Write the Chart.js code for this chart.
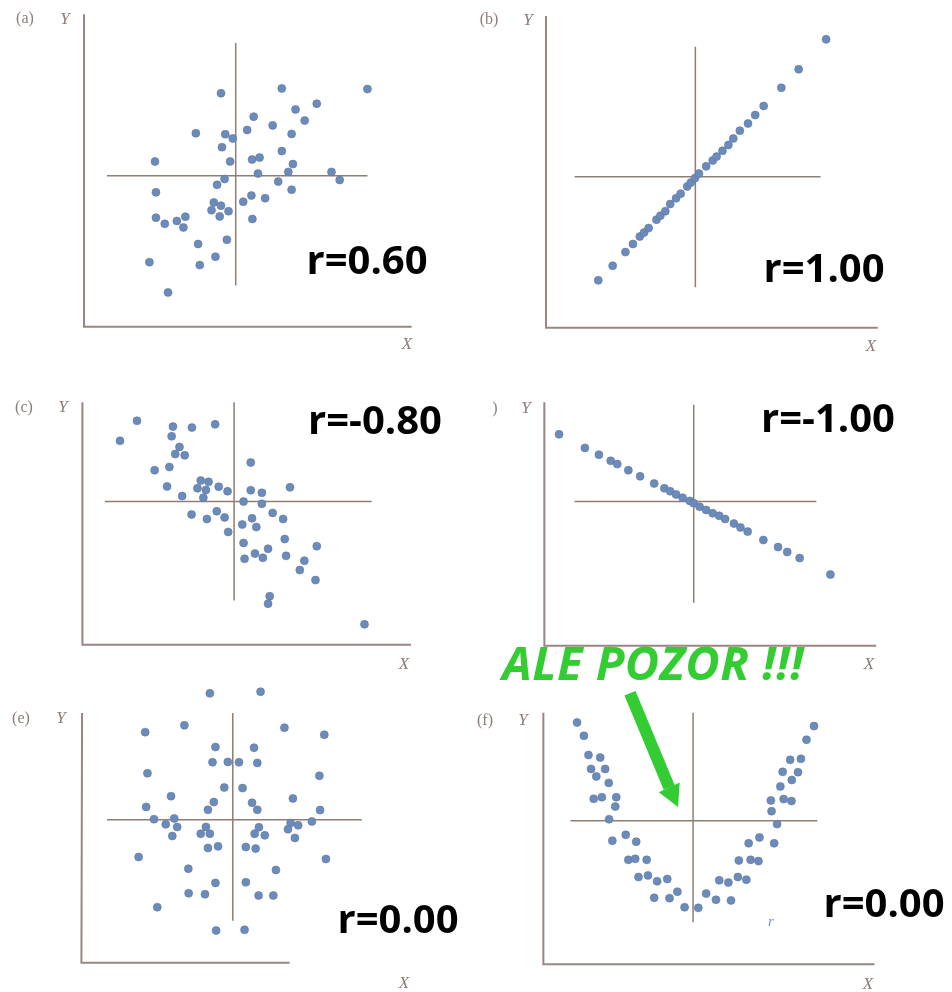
<!DOCTYPE html>
<html>
<head>
<meta charset="utf-8">
<script src="https://cdn.jsdelivr.net/npm/chart.js@4/dist/chart.umd.min.js"></script>
<style>
body { margin: 0; background: #fff; }
#page { position: relative; width: 952px; height: 992px; overflow: hidden; background: #fff; }
.panel { position: absolute; }
.lbl { position: absolute; font-family: "Liberation Serif", serif; color: #8c7f79; font-size: 16px; line-height: 1; transform: translate(-50%, -50%); white-space: nowrap; }
.ax { font-style: italic; font-size: 17px; }
.r { position: absolute; font-family: "Open Sans", sans-serif; font-weight: bold; font-size: 40px; line-height: 1; color: #000; transform: translate(-50%, -50%); white-space: nowrap; }
#pozor { position: absolute; font-family: "Open Sans", sans-serif; font-weight: bold; font-style: italic; font-size: 47px; line-height: 1; color: #33cc33; transform: translate(-50%, -50%); white-space: nowrap; letter-spacing: 0.5px; }
</style>
</head>
<body>
<div id="page">
  <canvas id="a" class="panel" width="476" height="360" style="left:0;top:0"></canvas>
  <canvas id="b" class="panel" width="476" height="360" style="left:476px;top:0"></canvas>
  <canvas id="c" class="panel" width="476" height="300" style="left:0;top:380px"></canvas>
  <canvas id="d" class="panel" width="476" height="300" style="left:476px;top:380px"></canvas>
  <canvas id="e" class="panel" width="476" height="312" style="left:0;top:680px"></canvas>
  <canvas id="f" class="panel" width="476" height="352" style="left:476px;top:640px"></canvas>

  <div class="lbl" style="left:25px;top:18px">(a)</div>
  <div class="lbl ax" style="left:65px;top:18px">Y</div>
  <div class="lbl ax" style="left:407px;top:343px">X</div>
  <div class="r" style="left:367px;top:259px">r=0.60</div>

  <div class="lbl" style="left:489px;top:19px">(b)</div>
  <div class="lbl ax" style="left:528px;top:19px">Y</div>
  <div class="lbl ax" style="left:871px;top:345px">X</div>
  <div class="r" style="left:824px;top:267px">r=1.00</div>

  <div class="lbl" style="left:24px;top:407px">(c)</div>
  <div class="lbl ax" style="left:63px;top:406px">Y</div>
  <div class="lbl ax" style="left:404px;top:663px">X</div>
  <div class="r" style="left:375px;top:419px">r=-0.80</div>

  <div class="lbl" style="left:495px;top:408px">)</div>
  <div class="lbl ax" style="left:526px;top:407px">Y</div>
  <div class="lbl ax" style="left:869px;top:663px">X</div>
  <div class="r" style="left:828px;top:417px">r=-1.00</div>

  <div class="lbl" style="left:21px;top:718px">(e)</div>
  <div class="lbl ax" style="left:61px;top:717px">Y</div>
  <div class="lbl ax" style="left:404px;top:982px">X</div>
  <div class="r" style="left:398px;top:918px">r=0.00</div>

  <div class="lbl" style="left:485px;top:720px">(f)</div>
  <div class="lbl ax" style="left:523px;top:719px">Y</div>
  <div class="lbl ax" style="left:868px;top:983px">X</div>
  <div class="lbl ax" style="left:771px;top:921px;color:#7f95b8;font-size:15px">r</div>
  <div class="r" style="left:884px;top:902px">r=0.00</div>

  <div id="pozor" style="left:653px;top:662px">ALE POZOR !!!</div>
</div>
<script>
// Point readings per panel (panel-local units, y grows downward)
var aX = [662, 848, 1110, 955, 890, 762, 918, 820, 742, 585, 675, 698, 878, 665, 848, 460, 690, 757, 780, 882, 775, 868, 1000, 673, 1025, 837, 650, 463, 878, 755, 797, 730, 640, 662, 633, 685, 463, 490, 527, 553, 547, 658, 758, 592, 680, 443, 645, 597, 500];
var aY = [273, 258, 260, 305, 323, 345, 357, 372, 386, 396, 399, 412, 398, 439, 451, 483, 483, 477, 471, 491, 520, 515, 515, 537, 540, 545, 555, 578, 570, 588, 596, 607, 609, 619, 633, 636, 656, 675, 666, 653, 686, 652, 660, 737, 724, 793, 776, 802, 886];

var bX = [360, 404, 443, 466, 487, 500, 514, 538, 550, 565, 580, 598, 612, 632, 643, 656, 668, 690, 710, 722, 740, 758, 773, 793, 818, 840, 866, 920, 973, 1057];
var bY = [849, 804, 762, 737, 714, 702, 688, 662, 650, 636, 614, 596, 582, 560, 548, 534, 520, 498, 480, 468, 450, 432, 412, 388, 366, 340, 312, 256, 199, 107];

var cX = [353, 405, 515, 573, 644, 511, 535, 522, 551, 459, 504, 753, 497, 600, 624, 590, 616, 655, 682, 543, 608, 753, 787, 873, 731, 787, 572, 619, 649, 673, 820, 852, 757, 727, 770, 684, 857, 731, 955, 806, 766, 790, 734, 861, 917, 903, 951, 811, 806, 1101];
var cY = [174, 112, 130, 133, 123, 160, 193, 215, 219, 265, 255, 241, 315, 297, 301, 321, 326, 316, 330, 345, 350, 327, 335, 318, 362, 369, 402, 416, 392, 411, 397, 416, 414, 433, 441, 456, 478, 490, 500, 508, 523, 536, 539, 530, 545, 574, 605, 655, 678, 742];

var dX = [240, 319, 362, 398, 418, 452, 488, 531, 562, 580, 598, 618, 640, 652, 670, 690, 710, 730, 748, 775, 795, 817, 865, 910, 938, 976, 1070];
var dY = [154, 196, 217, 236, 246, 265, 284, 306, 321, 330, 340, 350, 360, 367, 378, 388, 398, 406, 416, 430, 442, 455, 481, 503, 518, 537, 588];

var eX = [628, 783, 430, 550, 856, 978, 645, 763, 636, 683, 717, 773, 437, 963, 672, 728, 509, 882, 640, 757, 622, 773, 433, 965, 457, 519, 493, 528, 513, 616, 600, 628, 778, 765, 796, 875, 898, 867, 888, 940, 622, 653, 738, 768, 410, 983, 562, 830, 645, 738, 563, 613, 777, 822, 467, 647, 734];
var eY = [27, 22, 147, 126, 133, 155, 193, 195, 240, 239, 240, 242, 274, 282, 318, 320, 345, 352, 363, 365, 387, 387, 378, 388, 416, 414, 432, 440, 468, 440, 461, 461, 441, 461, 466, 428, 435, 447, 474, 423, 505, 500, 502, 507, 533, 539, 569, 573, 613, 611, 645, 648, 652, 652, 688, 760, 758];

var fX = [295, 316, 330, 366, 338, 381, 354, 392, 346, 371, 415, 412, 393, 403, 444, 476, 452, 473, 508, 483, 512, 540, 571, 531, 578, 602, 624, 666, 690, 720, 730, 758, 766, 787, 813, 790, 826, 850, 820, 853, 898, 907, 890, 888, 927, 951, 917, 952, 971, 924, 947, 980, 997, 1020];
var fY = [240, 281, 340, 348, 383, 383, 406, 426, 475, 470, 470, 499, 538, 604, 586, 607, 663, 660, 663, 716, 711, 729, 722, 780, 781, 761, 809, 811, 767, 786, 726, 733, 788, 716, 724, 665, 663, 667, 612, 594, 612, 553, 513, 480, 476, 482, 437, 417, 393, 392, 355, 352, 293, 251];

// Axes (top of Y, origin, end of X) and the mean cross lines
var aAxis = [[243, 30], [243, 992], [1245, 992]];
var bAxis = [[200, 35], [200, 995], [1215, 995]];
var cAxis = [[238, 55], [238, 805], [1243, 805]];
var dAxis = [[195, 55], [195, 808], [1210, 808]];
var eAxis = [[237, 88], [235, 860], [872, 860]];
var fAxis = [[192, 210], [192, 985], [1205, 985]];

var aCross = { h: [313, 1110, 527], v: [707, 118, 865] };
var bCross = { h: [288, 1040, 530], v: [657, 130, 870] };
var cCross = { h: [307, 1123, 362], v: [702, 55, 668] };
var dCross = { h: [287, 1027, 362], v: [652, 62, 675] };
var eCross = { h: [313, 1093, 418], v: [698, 88, 730] };
var fCross = { h: [275, 1030, 543], v: [650, 210, 855] };

// Warning arrow in panel f (shaft start, shaft end, head left, head right, tip)
var arrowPts = [[457, 150], [577, 440], [545, 455], [609, 425], [604, 500]];

var dotColor = '#6b8bba';
var axisColor = '#9b8582';
var crossColor = '#8f7e72';

var arrowPlugin = {
    id: 'arrow',
    afterDatasetsDraw: function (chart) {
        if (chart.canvas.id !== 'f') return;
        var xs = chart.scales.x, ys = chart.scales.y, ctx = chart.ctx;
        var p = arrowPts.map(function (q) { return [xs.getPixelForValue(q[0]), ys.getPixelForValue(q[1])]; });
        ctx.save();
        ctx.strokeStyle = '#33cc33';
        ctx.fillStyle = '#33cc33';
        ctx.lineWidth = 12;
        ctx.lineCap = 'butt';
        ctx.beginPath();
        ctx.moveTo(p[0][0], p[0][1]);
        ctx.lineTo(p[1][0], p[1][1]);
        ctx.stroke();
        ctx.beginPath();
        ctx.moveTo(p[2][0], p[2][1]);
        ctx.lineTo(p[3][0], p[3][1]);
        ctx.lineTo(p[4][0], p[4][1]);
        ctx.closePath();
        ctx.fill();
        ctx.restore();
    }
};

function toPts(xs, ys) {
    return xs.map(function (x, i) { return { x: x, y: ys[i] }; });
}

function drawPanel(id, xs, ys, axis, cross) {
    var canvas = document.getElementById(id);
    var xMax = canvas.width * 3, yMax = canvas.height * 3;
    var lineDs = function (data, color, width) {
        return {
            data: data, showLine: true, borderColor: color, borderWidth: width,
            pointRadius: 0, fill: false, order: 2, clip: false
        };
    };
    new Chart(canvas, {
        type: 'scatter',
        data: {
            datasets: [
                {
                    data: toPts(xs, ys), backgroundColor: dotColor, borderColor: '#62799f',
                    borderWidth: 0.6, pointRadius: 4, order: 0, clip: false
                },
                lineDs(axis.map(function (q) { return { x: q[0], y: q[1] }; }), axisColor, 2),
                lineDs([{ x: cross.h[0], y: cross.h[2] }, { x: cross.h[1], y: cross.h[2] }], crossColor, 1.5),
                lineDs([{ x: cross.v[0], y: cross.v[1] }, { x: cross.v[0], y: cross.v[2] }], crossColor, 1.5)
            ]
        },
        options: {
            responsive: false,
            animation: false,
            events: [],
            layout: { padding: 0 },
            plugins: { legend: { display: false }, tooltip: { enabled: false } },
            scales: {
                x: { type: 'linear', display: false, min: 0, max: xMax },
                y: { type: 'linear', display: false, min: 0, max: yMax, reverse: true }
            }
        },
        plugins: [arrowPlugin]
    });
}

drawPanel('a', aX, aY, aAxis, aCross);
drawPanel('b', bX, bY, bAxis, bCross);
drawPanel('c', cX, cY, cAxis, cCross);
drawPanel('d', dX, dY, dAxis, dCross);
drawPanel('e', eX, eY, eAxis, eCross);
drawPanel('f', fX, fY, fAxis, fCross);
</script>
</body>
</html>
